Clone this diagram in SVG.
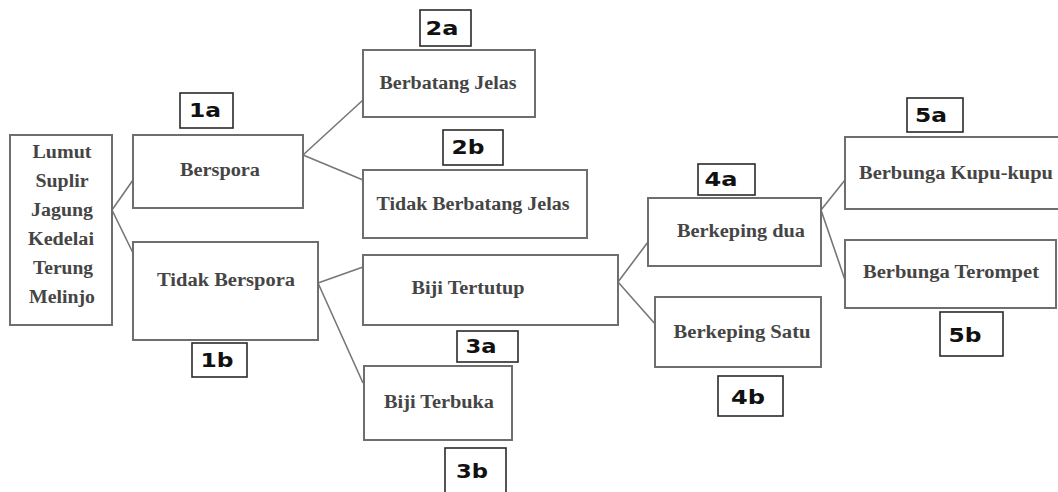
<svg xmlns="http://www.w3.org/2000/svg" width="1058" height="492" viewBox="0 0 1058 492">
<style>
.box{fill:#fff;stroke:#6e6e6e;stroke-width:2}
.lbl{fill:#fff;stroke:#2a2a2a;stroke-width:1.6}
.t{font-family:"Liberation Serif","Times New Roman",serif;font-weight:bold;font-size:18px;fill:#454545;text-anchor:middle}
.l{font-family:"DejaVu Sans","Verdana",sans-serif;font-weight:bold;font-size:19px;fill:#111;text-anchor:middle}
.c{stroke:#777;stroke-width:1.6;fill:none}
</style>
<rect width="1058" height="492" fill="#fff"/>
<g id="connectors">
<path class="c" d="M112 210 L133 180 M112 210 L133 253"/>
<path class="c" d="M303 155 L363 100 M303 155 L363 180"/>
<path class="c" d="M318 283 L363 267 M318 283 L363 383"/>
<path class="c" d="M618 282 L648 242 M618 282 L656 325"/>
<path class="c" d="M821 210 L845 180 M821 210 L845 280"/>
</g>
<g id="root">
<rect class="box" x="10" y="135" width="102" height="190"/>
<text class="t" x="62" y="158" textLength="59" lengthAdjust="spacingAndGlyphs">Lumut</text>
<text class="t" x="62" y="187" textLength="53" lengthAdjust="spacingAndGlyphs">Suplir</text>
<text class="t" x="62" y="216" textLength="62" lengthAdjust="spacingAndGlyphs">Jagung</text>
<text class="t" x="61" y="245" textLength="66" lengthAdjust="spacingAndGlyphs">Kedelai</text>
<text class="t" x="63" y="274" textLength="60" lengthAdjust="spacingAndGlyphs">Terung</text>
<text class="t" x="62" y="303" textLength="66" lengthAdjust="spacingAndGlyphs">Melinjo</text>
</g>
<g id="berspora">
<rect class="box" x="133" y="135" width="170" height="73"/>
<text class="t" x="220" y="176" textLength="80" lengthAdjust="spacingAndGlyphs">Berspora</text>
</g>
<g id="tidak-berspora">
<rect class="box" x="133" y="242" width="185" height="98"/>
<text class="t" x="226" y="286" textLength="138" lengthAdjust="spacingAndGlyphs">Tidak Berspora</text>
</g>
<g id="berbatang-jelas">
<rect class="box" x="363" y="50" width="172" height="67"/>
<text class="t" x="448" y="89" textLength="137" lengthAdjust="spacingAndGlyphs">Berbatang Jelas</text>
</g>
<g id="tidak-berbatang-jelas">
<rect class="box" x="363" y="170" width="224" height="68"/>
<text class="t" x="473" y="210" textLength="193" lengthAdjust="spacingAndGlyphs">Tidak Berbatang Jelas</text>
</g>
<g id="biji-tertutup">
<rect class="box" x="363" y="255" width="255" height="70"/>
<text class="t" x="468" y="294" textLength="113" lengthAdjust="spacingAndGlyphs">Biji Tertutup</text>
</g>
<g id="biji-terbuka">
<rect class="box" x="364" y="366" width="148" height="74"/>
<text class="t" x="439" y="408" textLength="110" lengthAdjust="spacingAndGlyphs">Biji Terbuka</text>
</g>
<g id="berkeping-dua">
<rect class="box" x="648" y="198" width="173" height="68"/>
<text class="t" x="741" y="237" textLength="128" lengthAdjust="spacingAndGlyphs">Berkeping dua</text>
</g>
<g id="berkeping-satu">
<rect class="box" x="655" y="297" width="166" height="70"/>
<text class="t" x="742" y="338" textLength="137" lengthAdjust="spacingAndGlyphs">Berkeping Satu</text>
</g>
<g id="berbunga-kupu-kupu">
<rect class="box" x="845" y="137" width="220" height="72"/>
<text class="t" x="956" y="179" textLength="194" lengthAdjust="spacingAndGlyphs">Berbunga Kupu-kupu</text>
</g>
<g id="berbunga-terompet">
<rect class="box" x="845" y="240" width="211" height="68"/>
<text class="t" x="951" y="278" textLength="176" lengthAdjust="spacingAndGlyphs">Berbunga Terompet</text>
</g>
<g id="label-1a"><rect class="lbl" x="180" y="93" width="53" height="35"/><text class="l" x="205" y="117" textLength="32" lengthAdjust="spacingAndGlyphs">1a</text></g>
<g id="label-1b"><rect class="lbl" x="192" y="343" width="55" height="34"/><text class="l" x="217" y="367" textLength="33" lengthAdjust="spacingAndGlyphs">1b</text></g>
<g id="label-2a"><rect class="lbl" x="420" y="10" width="51" height="36"/><text class="l" x="442" y="35" textLength="33" lengthAdjust="spacingAndGlyphs">2a</text></g>
<g id="label-2b"><rect class="lbl" x="443" y="130" width="60" height="35"/><text class="l" x="468" y="154" textLength="33" lengthAdjust="spacingAndGlyphs">2b</text></g>
<g id="label-3a"><rect class="lbl" x="457" y="331" width="61" height="31"/><text class="l" x="481" y="353" textLength="31" lengthAdjust="spacingAndGlyphs">3a</text></g>
<g id="label-3b"><rect class="lbl" x="445" y="448" width="61" height="50"/><text class="l" x="472" y="478" textLength="32" lengthAdjust="spacingAndGlyphs">3b</text></g>
<g id="label-4a"><rect class="lbl" x="698" y="164" width="57" height="31"/><text class="l" x="721" y="186" textLength="33" lengthAdjust="spacingAndGlyphs">4a</text></g>
<g id="label-4b"><rect class="lbl" x="718" y="376" width="65" height="40"/><text class="l" x="748" y="404" textLength="34" lengthAdjust="spacingAndGlyphs">4b</text></g>
<g id="label-5a"><rect class="lbl" x="907" y="98" width="56" height="34"/><text class="l" x="931" y="122" textLength="32" lengthAdjust="spacingAndGlyphs">5a</text></g>
<g id="label-5b"><rect class="lbl" x="940" y="312" width="63" height="44"/><text class="l" x="965" y="342" textLength="33" lengthAdjust="spacingAndGlyphs">5b</text></g>
</svg>
